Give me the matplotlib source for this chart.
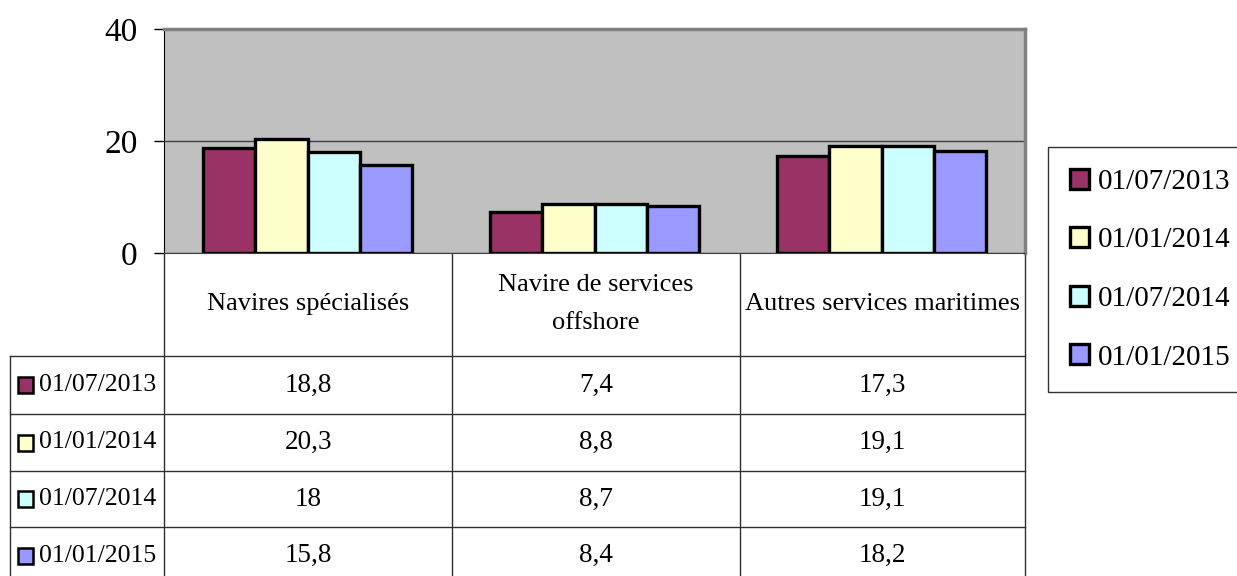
import matplotlib
matplotlib.use('Agg')
from matplotlib import pyplot as plt
from matplotlib.patches import Rectangle
import numpy as np

plt.rcParams['font.family'] = ['Liberation Serif', 'DejaVu Serif']

# Data
categories = ['Navires spécialisés', 'Navire de services\noffshore',
              'Autres services maritimes']
dates = ['01/07/2013', '01/01/2014', '01/07/2014', '01/01/2015']
val_2013_07 = [18.8, 7.4, 17.3]
val_2014_01 = [20.3, 8.8, 19.1]
val_2014_07 = [18.0, 8.7, 19.1]
val_2015_01 = [15.8, 8.4, 18.2]
series = [val_2013_07, val_2014_01, val_2014_07, val_2015_01]
colors = ['#993366', '#FFFFCC', '#CCFFFF', '#9999FF']
yticks = [0, 20, 40]

W, H = 1237, 576
fig = plt.figure(figsize=(W / 100, H / 100), dpi=100)

# overlay in pixel coordinates for the data table
ax_t = fig.add_axes([0, 0, 1, 1])
ax_t.set_xlim(0, W)
ax_t.set_ylim(H, 0)
ax_t.axis('off')

# plot area
left, right, top, bottom = 164, 1025, 29, 253
ax = fig.add_axes([left / W, 1 - bottom / H, (right - left) / W, (bottom - top) / H])
ax.set_facecolor('#C0C0C0')
x = np.arange(len(categories))
bw = 0.182
handles = []
for i, vals in enumerate(series):
    b = ax.bar(x + (i - 1.5) * bw, vals, bw, color=colors[i],
               edgecolor='black', linewidth=2.4, label=dates[i], zorder=3)
    handles.append(b)
ax.set_xlim(-0.5, len(categories) - 0.5)
ax.set_ylim(0, 40)
ax.set_yticks(yticks)
ax.set_xticks([])
ax.yaxis.grid(True, color='#404040', linewidth=1)
ax.tick_params(axis='y', length=7, width=1, pad=12, labelsize=24)
for s in ['top', 'right']:
    ax.spines[s].set_color('#808080')
    ax.spines[s].set_linewidth(2.5)
ax.spines['left'].set_color('black')
ax.spines['bottom'].set_color('#404040')

# table grid
lc = '#303030'
col_edges = [164, 452, 740, 1025]
row_edges = [356, 414, 471, 527, 584]
for xe in col_edges:
    ax_t.plot([xe, xe], [253, H], color=lc, lw=1)
ax_t.plot([10, 10], [356, H], color=lc, lw=1)
for ye in row_edges[:-1]:
    ax_t.plot([10, 1025], [ye, ye], color=lc, lw=1)

col_centers = [(col_edges[i] + col_edges[i + 1]) / 2 for i in range(3)]
for j, cat in enumerate(categories):
    ax_t.text(col_centers[j], 304, cat, ha='center', va='center',
              fontsize=19, linespacing=1.9)

for i, vals in enumerate(series):
    yc = (row_edges[i] + row_edges[i + 1]) / 2
    ax_t.add_patch(Rectangle((18, yc - 8), 15, 16, facecolor=colors[i],
                             edgecolor='black', lw=1.8))
    ax_t.text(39, yc, dates[i], ha='left', va='center', fontsize=18.5)
    for j, v in enumerate(vals):
        ax_t.text(col_centers[j], yc, '{:g}'.format(v).replace('.', ','),
                  ha='center', va='center', fontsize=19.5)

leg = fig.legend(handles=handles, loc='upper left',
                 bbox_to_anchor=(1048 / W, 1 - 147 / H), borderaxespad=0,
                 fontsize=21, frameon=True, fancybox=False, edgecolor='black',
                 handlelength=0.68, handleheight=0.68, handletextpad=0.3,
                 labelspacing=1.11, borderpad=0.74)
leg.get_frame().set_linewidth(1)

fig.savefig('out.png', dpi=100)
